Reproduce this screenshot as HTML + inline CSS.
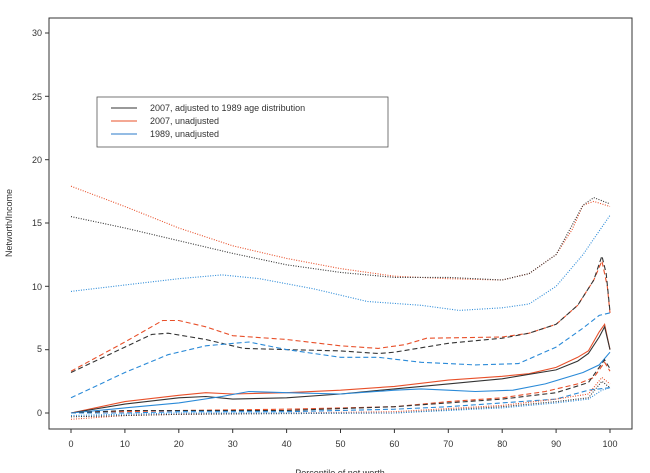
<!DOCTYPE html>
<html><head><meta charset="utf-8"><style>
html,body{margin:0;padding:0;background:#fff}
svg{display:block;font-family:"Liberation Sans",sans-serif}
</style></head><body>
<svg id="s" width="650" height="473" viewBox="0 0 650 473" xmlns="http://www.w3.org/2000/svg">
<rect x="49" y="18" width="583" height="411" fill="none" stroke="#333" stroke-width="1"/>
<g font-size="9" fill="#333" text-anchor="end">
<text x="42" y="36">30</text><text x="42" y="100">25</text><text x="42" y="163">20</text>
<text x="42" y="226">15</text><text x="42" y="290">10</text><text x="42" y="352">5</text><text x="42" y="416">0</text>
</g>
<g stroke="#333"><line x1="45" x2="49" y1="33" y2="33"/><line x1="45" x2="49" y1="96.3" y2="96.3"/><line x1="45" x2="49" y1="159.7" y2="159.7"/><line x1="45" x2="49" y1="223" y2="223"/><line x1="45" x2="49" y1="286.3" y2="286.3"/><line x1="45" x2="49" y1="349.7" y2="349.7"/><line x1="45" x2="49" y1="413" y2="413"/></g>
<g id="xt" font-size="9" fill="#333" text-anchor="middle"></g>
<text x="12" y="223" font-size="9" fill="#333" text-anchor="middle" transform="rotate(-90 12 223)">Networth/Income</text>
<text x="340" y="476" font-size="9" fill="#333" text-anchor="middle">Percentile of net worth</text>
<rect x="97" y="97" width="291" height="50" fill="#fff" stroke="#555" stroke-width="0.8"/>
<line x1="111" x2="137" y1="108" y2="108" stroke="#333"/>
<line x1="111" x2="137" y1="121" y2="121" stroke="#e8502a"/>
<line x1="111" x2="137" y1="134" y2="134" stroke="#2a7ac8"/>
<g font-size="9" fill="#333"><text x="150" y="111">2007, adjusted to 1989 age distribution</text><text x="150" y="124">2007, unadjusted</text><text x="150" y="137">1989, unadjusted</text></g>
<g id="c" fill="none"></g>
</svg>
<script>
var X=function(p){return 71+5.39*p},Y=function(v){return 413-12.67*v};
var xt=document.getElementById('xt'),s='';
for(var i=0;i<=100;i+=10){s+='<line x1="'+X(i)+'" x2="'+X(i)+'" y1="429" y2="433" stroke="#333"/><text x="'+X(i)+'" y="447">'+i+'</text>';}
xt.innerHTML=s;
var K='#333',O='#e8502a',B='#2a8ad8';
var D=[
[O,'1 1.5',[0,17.9,10,16.3,20,14.6,30,13.2,40,12.2,50,11.4,60,10.8,70,10.6,80,10.5,85,11,90,12.5,93,14.5,95,16.4,97,16.7,100,16.3]],
[K,'1 1.5',[0,15.5,10,14.6,20,13.6,30,12.6,40,11.7,50,11.1,60,10.7,70,10.7,80,10.5,85,11,90,12.5,95,16.4,97,17,100,16.5]],
[B,'1 1.5',[0,9.6,10,10.1,20,10.6,28,10.9,35,10.6,45,9.8,55,8.8,65,8.5,72,8.1,80,8.3,85,8.6,90,10,95,12.5,100,15.6]],
[O,'5 3',[0,3.3,10,5.6,17,7.3,20,7.3,25,6.8,30,6.1,40,5.8,50,5.3,57,5.1,62,5.4,66,5.9,80,6.0,85,6.3,90,7.0,94,8.5,97,10.5,98.5,12,99.5,10,100,7.9]],
[K,'5 3',[0,3.2,10,5.2,15,6.2,18,6.3,25,5.8,32,5.1,40,5.0,50,4.9,57,4.7,60,4.8,70,5.5,80,5.9,85,6.3,90,7,94,8.5,97,10.5,98.5,12.4,99.3,11,100,8]],
[B,'5 3',[0,1.2,10,3.2,18,4.6,25,5.3,33,5.6,40,5.0,50,4.4,57,4.4,65,4.0,75,3.8,83,3.9,90,5.2,95,6.7,98,7.7,100,7.9]],
[O,'',[0,0,10,0.9,20,1.4,25,1.6,30,1.5,40,1.6,50,1.8,60,2.1,70,2.6,80,2.9,85,3.1,90,3.6,94,4.4,96,4.9,98,6.4,99,7,100,5]],
[K,'',[0,0,10,0.7,20,1.2,25,1.3,30,1.1,40,1.2,50,1.5,60,1.9,70,2.3,80,2.7,90,3.4,94,4.1,96,4.7,98,6,99,6.8,100,5]],
[B,'',[0,0,10,0.4,20,0.8,28,1.3,33,1.7,40,1.6,50,1.5,60,1.8,65,1.9,70,1.8,75,1.7,82,1.8,88,2.3,95,3.2,98,3.8,100,4.8]],
[O,'5 3',[0,0,5,0.1,10,0.1,20,0.2,40,0.3,60,0.5,70,0.9,80,1.2,88,1.7,94,2.3,97,2.8,99,4,100,3.3]],
[K,'5 3',[0,0,10,0.2,20,0.2,40,0.2,60,0.5,70,0.8,80,1.1,90,1.6,96,2.4,99,4.2,100,3.5]],
[B,'5 3',[0,0,10,0,20,0.1,40,0.1,60,0.3,70,0.5,80,0.8,90,1.1,96,1.8,98,1.9,100,2.0]],
[O,'1 1.5',[0,-0.5,10,-0.2,20,-0.1,40,0,60,0.1,80,0.6,90,1.1,96,1.5,98.5,2.8,100,2.3]],
[K,'1 1.5',[0,-0.3,20,-0.1,40,-0.05,60,0,80,0.5,90,0.9,96,1.2,98.5,2.5,100,2]],
[B,'1 1.5',[0,-0.2,20,0,40,0,60,0,80,0.4,90,0.8,96,1.1,98.5,1.8,100,2.0]]
];
var h='';
D.forEach(function(d){var a=d[2],pts=[];for(var i=0;i<a.length;i+=2)pts.push(X(a[i]).toFixed(1)+','+Y(a[i+1]).toFixed(1));
h+='<polyline points="'+pts.join(' ')+'" stroke="'+d[0]+'" stroke-width="1.1"'+(d[1]?' stroke-dasharray="'+d[1]+'"':'')+'/>';});
document.getElementById('c').innerHTML=h;
</script>
</body></html>
